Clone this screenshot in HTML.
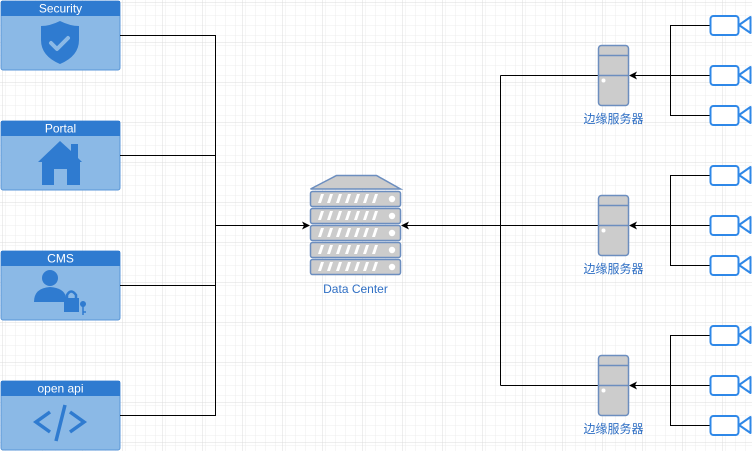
<!DOCTYPE html>
<html><head><meta charset="utf-8"><style>
html,body{margin:0;padding:0;background:#fff;}
svg{display:block;}
text{font-family:"Liberation Sans","Noto Sans CJK SC",sans-serif;}
</style></head><body>
<svg width="752" height="451" viewBox="0 0 752 451" xmlns="http://www.w3.org/2000/svg">
<defs>
<pattern id="minor" width="10" height="10" patternUnits="userSpaceOnUse" x="2.5" y="2.5">
<path d="M10 0H0V10" fill="none" stroke="#ececec" stroke-width="1"/>
</pattern>
<pattern id="major" width="40" height="40" patternUnits="userSpaceOnUse" x="2.5" y="2.5">
<rect width="40" height="40" fill="url(#minor)"/>
<path d="M40 0H0V40" fill="none" stroke="#dcdcdc" stroke-width="1"/>
</pattern>
<g id="box">
<rect x="1" y="1" width="119" height="69" rx="2" fill="#8bb9e6" stroke="#5a96d8" stroke-width="1"/>
<rect x="1" y="1" width="119" height="15" fill="#2f7bd0"/>
</g>
<g id="srv">
<rect x="598.5" y="0.5" width="30" height="60" rx="3" fill="#cccccc" stroke="#6c8ebf" stroke-width="1.5"/>
<line x1="598.5" y1="10.5" x2="628.5" y2="10.5" stroke="#6c8ebf" stroke-width="1.5"/>
<line x1="598.5" y1="30.5" x2="628.5" y2="30.5" stroke="#6c8ebf" stroke-width="1.5"/>
<circle cx="603.5" cy="35.5" r="2" fill="#fff"/>
</g>
<g id="cam">
<rect x="710.5" y="-9" width="28" height="19" rx="3" fill="#fff" stroke="#2f88e8" stroke-width="2"/>
<path d="M739 0 L750.5 -8 V8 Z" fill="#fff" stroke="#2f88e8" stroke-width="2" stroke-linejoin="round"/>
</g>
<g id="dcrow">
<rect x="310.5" y="0.5" width="90" height="15" rx="2" fill="#cccccc" stroke="#6c8ebf" stroke-width="1.5"/>
<path d="M318 12 l3 -9 h3 l-3 9z M327 12 l3 -9 h3 l-3 9z M336 12 l3 -9 h3 l-3 9z M345 12 l3 -9 h3 l-3 9z M354 12 l3 -9 h3 l-3 9z M363 12 l3 -9 h3 l-3 9z M372 12 l3 -9 h3 l-3 9z" fill="#fff"/>
<circle cx="392" cy="8" r="3.2" fill="#fff"/>
</g>
</defs>
<rect width="752" height="451" fill="url(#major)"/>

<use href="#box"/>
<text x="60.5" y="12.5" font-size="12" fill="#fff" text-anchor="middle">Security</text>
<path d="M60 21 Q70 26 79 26 V40 Q79 56 60 64 Q41 56 41 40 V26 Q50 26 60 21Z" fill="#2f7bd0"/>
<path d="M51 43 l6 6 l11 -11" fill="none" stroke="#8bb9e6" stroke-width="4" stroke-linecap="round" stroke-linejoin="round"/>

<use href="#box" y="120"/>
<text x="60.5" y="132.5" font-size="12" fill="#fff" text-anchor="middle">Portal</text>
<path d="M38 162 L60 141 L71 151 V144 H78 V158 L82 162 H80 V185 H67 V169 H54 V185 H42 V162Z" fill="#2f7bd0"/>

<use href="#box" y="250"/>
<text x="60.5" y="262.5" font-size="12" fill="#fff" text-anchor="middle">CMS</text>
<circle cx="50" cy="278" r="8" fill="#2f7bd0"/>
<path d="M34 302 Q34 288 50 287 Q64 288 66 297 V302Z" fill="#2f7bd0"/>
<rect x="64" y="298" width="15" height="14" fill="#2f7bd0"/>
<path d="M67 299 V295 Q71 288 76 295 V299" fill="none" stroke="#2f7bd0" stroke-width="2.5"/>
<circle cx="83" cy="304" r="3" fill="#2f7bd0"/>
<path d="M83 305 V315 M83 312 H86" stroke="#2f7bd0" stroke-width="1.5"/>

<use href="#box" y="380"/>
<text x="60.5" y="392.5" font-size="12" fill="#fff" text-anchor="middle">open api</text>
<path d="M50 412 L36 422 L50 432 M70 412 L84 422 L70 432 M65 405 L56 441" fill="none" stroke="#2f7bd0" stroke-width="3.5"/>

<path d="M120 35.5 H215.5 V415.5 H120 M120 155.5 H215.5 M120 285.5 H215.5 M215.5 225.5 H304" fill="none" stroke="#000" stroke-width="1"/>
<path d="M310 225.5 L302 221.5 L304 225.5 L302 229.5Z" fill="#000"/>

<path d="M336.5 175.5 H376.5 L400.5 189 H310.5Z" fill="#cccccc" stroke="#6c8ebf" stroke-width="1.5"/>
<use href="#dcrow" y="191"/>
<use href="#dcrow" y="208"/>
<use href="#dcrow" y="225"/>
<use href="#dcrow" y="242"/>
<use href="#dcrow" y="259"/>
<text x="355.5" y="293" font-size="12" fill="#2f6fc4" text-anchor="middle">Data Center</text>

<path d="M500.5 75.5 V385.5 M500.5 75.5 H598 M500.5 385.5 H598 M407 225.5 H598" fill="none" stroke="#000" stroke-width="1"/>
<path d="M401 225.5 L409 221.5 L407 225.5 L409 229.5Z" fill="#000"/>

<g fill="none" stroke="#000" stroke-width="1">
<path d="M710 25.5 H670.5 V115.5 H710 M710 75.5 H635"/>
<path d="M710 175.5 H670.5 V265.5 H710 M710 225.5 H635"/>
<path d="M710 335.5 H670.5 V425.5 H710 M710 385.5 H635"/>
</g>
<path d="M629 75.5 L637 71.5 L635 75.5 L637 79.5Z M629 225.5 L637 221.5 L635 225.5 L637 229.5Z M629 385.5 L637 381.5 L635 385.5 L637 389.5Z" fill="#000"/>

<use href="#srv" y="45"/>
<use href="#srv" y="195"/>
<use href="#srv" y="355"/>
<text x="613.5" y="123" font-size="12" fill="#2f6fc4" text-anchor="middle">边缘服务器</text>
<text x="613.5" y="273" font-size="12" fill="#2f6fc4" text-anchor="middle">边缘服务器</text>
<text x="613.5" y="433" font-size="12" fill="#2f6fc4" text-anchor="middle">边缘服务器</text>

<use href="#cam" y="25"/>
<use href="#cam" y="75"/>
<use href="#cam" y="115"/>
<use href="#cam" y="175"/>
<use href="#cam" y="225"/>
<use href="#cam" y="265"/>
<use href="#cam" y="335"/>
<use href="#cam" y="385"/>
<use href="#cam" y="425"/>
</svg>
</body></html>
